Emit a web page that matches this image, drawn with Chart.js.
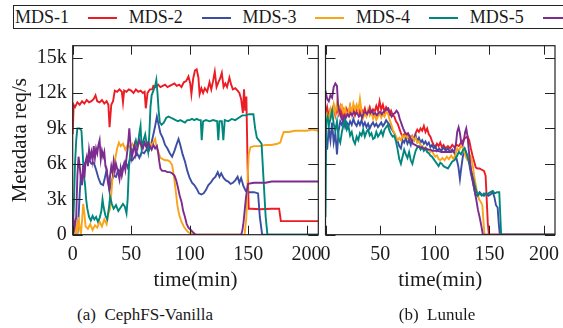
<!DOCTYPE html>
<html>
<head>
<meta charset="utf-8">
<script src="https://cdn.jsdelivr.net/npm/chart.js@4/dist/chart.umd.min.js"></script>
<style>
  body { margin: 0; background: #fff; width: 563px; height: 328px; overflow: hidden; position: relative; font-family: "Liberation Serif", "Times New Roman", Tinos, "DejaVu Serif", serif; color: #1a1a1a; }
  canvas { position: absolute; top: 0; }
  #legend { position: absolute; left: 12.5px; top: 5px; width: 600px; height: 22px; border: 1px solid #222; }
  .lt { position: absolute; top: 0; font-size: 18px; line-height: 23px; white-space: nowrap; }
  .ll { position: absolute; top: 11px; width: 29px; height: 2px; }
  .cap { position: absolute; top: 304px; font-size: 17px; line-height: 22px; white-space: nowrap; transform: translateX(-50%); }
</style>
</head>
<body>
<div id="legend"></div>
<canvas id="left" width="322" height="295" style="left:0"></canvas>
<canvas id="right" width="243" height="295" style="left:320px"></canvas>
<div class="cap" style="left:145px">(a)&nbsp;&nbsp;CephFS-Vanilla</div>
<div class="cap" style="left:437px">(b)&nbsp;&nbsp;Lunule</div>
<script>
const seriesNames = ['MDS-1', 'MDS-2', 'MDS-3', 'MDS-4', 'MDS-5'];
const seriesColors = ['#ec1c24', '#3b4ea3', '#f9a51a', '#00877c', '#7b2c8e'];
const xTicks = [0, 50, 100, 150, 200];
const yTicks = [0, 3000, 6000, 9000, 12000, 15000];

// CephFS-Vanilla, [minute, req/s]
const vanillaMds1 = [[0,8500],[0.8,11000],[2,10800],[4,11200],[6,11000],[8,11300],[10,11100],[12,11400],[14,11200],[16,11300],[18,11500],[19.5,11800],[21,11300],[23,11200],[25,11400],[27,11100],[29,11300],[30.5,11000],[31.5,9100],[33,11000],[34.5,11300],[36,12200],[38,12100],[40,12300],[42,12100],[43,11200],[44,12200],[46,12100],[48,12300],[50,12200],[52,12000],[54,12300],[56,12100],[58,12200],[60,12000],[61.5,12100],[62.5,10700],[64,12000],[66,12300],[68,12300],[69,12600],[71,12500],[73,12700],[75,12500],[77,12600],[79,12700],[81,12500],[83,12600],[85,12700],[87,12800],[89,12600],[91,12700],[93,12500],[95,12900],[97,13000],[99,13400],[100.5,12800],[101.5,11900],[103,13200],[104.5,13900],[106,14000],[107.5,13300],[108.5,11900],[110,12400],[111.5,12000],[113,12400],[115,12100],[117,12900],[118.5,12300],[120,13000],[121.5,13800],[123,12500],[124.5,12900],[126,13200],[127.5,13700],[129,12500],[130.5,12800],[132,12500],[134,13300],[135.5,12700],[137,12300],[139,12400],[141,12200],[142.5,12000],[144,11500],[145.5,10300],[146.5,12300],[147.5,10500],[148.5,11700],[149.5,6000],[150.5,2200],[153,2200],[160,2150],[170,2200],[176.5,2200],[178,1150],[190,1150],[200,1150],[210,1150]];
const vanillaMds2 = [[0,0],[4,0],[5,1500],[6,3500],[7,5000],[8,4200],[9,5500],[10,6000],[12,6200],[14,6300],[16,6000],[18,6100],[20,5500],[22,4800],[24,4300],[26,4200],[27.5,4800],[29,5500],[30.5,4500],[31.5,3700],[33,4500],[35,5000],[37,4900],[39,5500],[41,5300],[43,5800],[45,6200],[47,5700],[49,6400],[51,6300],[53,6600],[55,6900],[57,6500],[59,7000],[61,6900],[63,7200],[65,7100],[67,7600],[69,8500],[70.5,9200],[72,10000],[73.5,9300],[75,8600],[77,8200],[79,7600],[81,7300],[83,6900],[85,6600],[87,7100],[89,7700],[90.5,8100],[92,7600],[94,6800],[96,6200],[98,5400],[100,4800],[102,4400],[104,4200],[106,3900],[108,3500],[110,3400],[112,3500],[114,3800],[116,4200],[118,4400],[120,4700],[122,4900],[124,5300],[125.5,4900],[127,5200],[129,4800],[131,4600],[133,4500],[135,4300],[137,4400],[139,4600],[141,4900],[142.5,4400],[144,4800],[146,4100],[148,3700],[150,3600],[155,3600],[158.5,3500],[160,1500],[162,0],[210,0]];
const vanillaMds3 = [[0,0],[2,0],[3,800],[4,300],[5,1500],[6,600],[7,0],[8,1200],[9,2600],[10,1800],[11,700],[13,500],[15,900],[17,400],[19,800],[21,600],[23,1100],[25,700],[27,1300],[29,900],[30.5,1800],[32,2200],[33,3400],[34,4800],[35,5500],[36.5,6500],[38,7300],[39.5,7800],[41,7500],[43,7700],[45,7200],[47,7600],[49,7400],[51,7700],[53,7300],[55,7600],[57,7800],[59,7400],[61,7700],[63,7500],[65,7900],[67,7600],[69,7800],[70.5,8100],[72,7300],[73.5,6900],[75,6500],[77,6400],[79,6300],[81,6300],[83,6200],[85,5900],[86.5,5000],[88,3800],[89.5,2500],[91,1700],[93,1100],[95,700],[97,400],[99,200],[102,100],[105,0],[147,0],[148.5,1500],[149.5,4500],[150.5,6800],[152,7400],[155,7500],[160,7500],[165,7600],[170,7600],[175,7700],[177.5,7800],[179,8300],[180.5,8700],[185,8700],[190,8800],[195,8800],[200,8800],[205,8900],[210,8800]];
const vanillaMds4 = [[0,0],[1,2500],[2,6000],[3,8000],[4,9000],[6,9000],[7.5,8800],[8.5,7000],[9.5,5000],[10.5,4300],[11.5,3000],[12.5,2200],[14,1500],[15.5,1200],[17,1600],[18.5,1300],[20,1500],[21.5,1100],[23,1400],[24.5,2000],[25.5,3000],[26.5,2300],[28,1600],[29.5,1300],[31,2300],[32,3200],[33.5,2600],[35,2200],[37,2500],[39,2000],[41,2300],[43,2600],[44.5,2400],[46,1800],[47,3000],[48,5500],[49.5,7300],[51,7000],[52.5,7500],[54,8000],[55.5,7400],[57,8600],[58,9200],[59,7200],[60.5,8000],[62,8500],[63.5,7500],[64.5,7000],[65.5,8500],[66.5,10800],[67.5,11800],[69,12200],[70.5,12600],[71.5,13100],[72.5,12000],[73.5,10500],[74.5,9500],[76,9300],[78,9500],[80,9900],[82,10000],[84,9900],[86,9800],[88,9700],[90,9600],[92,9700],[94,9600],[96,9500],[98,9700],[100,9700],[102,9800],[104,9700],[106,9800],[108,9700],[109.5,9700],[110.3,8000],[111.5,9600],[114,9700],[117,9600],[120,9700],[123.5,9600],[124.5,8000],[125.5,9600],[127.5,9600],[128.8,8000],[130,9700],[133,9600],[136,9800],[139,9700],[142,9900],[145,10100],[148,10100],[151,10200],[154.5,10200],[156,9000],[157.5,8200],[160,7900],[161.5,7700],[163,5000],[165,1500],[166.5,0],[210,0]];
const vanillaMds5 = [[0,1700],[1.5,600],[3,1500],[4,5000],[5,6600],[6,5800],[7,4700],[8,4500],[9,5900],[10,4800],[11,6200],[12,6600],[13,5800],[14,7200],[15,6500],[16,7000],[17,6300],[18,7500],[19,6500],[20,7300],[21,6900],[22,7600],[23,8000],[24,6400],[25,7100],[26,6600],[27,7000],[28,5800],[29,5500],[30,4500],[31,4000],[32,5000],[33,5800],[34,5300],[35,6200],[36,5400],[37,6000],[38,5600],[39,5200],[40,4700],[41,5600],[42,5000],[43,5500],[44,6000],[45,5500],[46,6500],[47,7300],[48.4,9000],[49.5,7500],[50.5,6500],[52,7200],[53,7600],[54,6800],[55.5,7500],[57,8000],[58.5,7600],[60,7300],[61.5,7800],[63,7400],[64.5,7800],[66,7500],[67.5,7200],[69,7600],[70.5,7300],[72,7500],[73,7000],[74,6200],[75,5600],[76.5,5400],[79,5400],[81,5300],[83,5300],[85,5200],[87,5000],[88.5,4600],[90,4000],[91.5,3300],[93,2800],[94.5,2000],[96,1500],[97.5,900],[99,600],[101,400],[103,200],[105,0],[144,0],[145,300],[146,1000],[147,2000],[148,3000],[149,3800],[150,4300],[155,4400],[160,4400],[165,4400],[170,4500],[180,4500],[190,4500],[200,4500],[210,4500]];

// Lunule, [minute, req/s]
const lunuleMds1 = [[0,10200],[1.5,10800],[3,10000],[4.5,10600],[6,10300],[7.5,10900],[9,10100],[10.5,10700],[12,10200],[13.5,10800],[15,10000],[16.5,10500],[18,9800],[19.5,10600],[21,10200],[22.5,10900],[24,10300],[25.5,10700],[27,10100],[28.5,10500],[30,10800],[31.5,10200],[33,10600],[34.5,10300],[36,10700],[37.5,10100],[39,10400],[40.5,10800],[42,10300],[43.5,10600],[45,10400],[46.5,10900],[48,10500],[49.5,11300],[51,10600],[52.5,11000],[54,10400],[55.5,10800],[57,10600],[58.5,10200],[60,10500],[61.5,10100],[63,10000],[64.5,9600],[66,9400],[67.5,9000],[69,8600],[70.5,8300],[72,8500],[73.5,8200],[75,8400],[76.5,8100],[78,8300],[79.5,8000],[81,8200],[82.5,8600],[84,8900],[85.5,8700],[87,9000],[88.5,8800],[90,9200],[91.5,8700],[93,9000],[94.5,8500],[96,8300],[97.5,7900],[99,7600],[100.5,7400],[102,7700],[103.5,7500],[105,7800],[106.5,7400],[108,7600],[110,7300],[112,7500],[114,7300],[116,7600],[118,7400],[120,7600],[122,7500],[124,7800],[126,8000],[128,8200],[130,8300],[131.5,8000],[133,7300],[134.5,6700],[136,6200],[137.5,5700],[139,5600],[141,5600],[143,5500],[145,5400],[146.5,5000],[147.5,3000],[148.5,1000],[149.5,0],[210,0]];
const lunuleMds2 = [[0,8500],[1.5,7200],[3,9000],[4.5,8000],[6,9500],[7.5,7800],[9,8600],[10.5,6800],[12,8800],[13.5,9600],[15,9300],[16.5,9700],[18,9100],[19.5,9500],[21,9200],[22.5,9600],[24,9300],[25.5,9800],[27,9400],[28.5,9200],[30,9600],[31.5,9300],[33,9700],[34.5,9200],[36,9500],[37.5,9100],[39,9400],[40.5,9000],[42,9300],[43.5,9500],[45,9200],[46.5,9400],[48,9100],[49.5,9300],[51,9500],[52.5,9200],[54,9400],[55.5,9700],[57,9500],[58.5,9300],[60,9000],[61.5,8800],[63,8600],[64.5,8200],[66,7900],[67.5,7500],[69,7300],[70.5,8000],[72,7800],[73.5,8200],[75,7700],[76.5,8000],[78,7600],[79.5,8300],[81,8000],[82.5,8400],[84,7900],[85.5,8200],[87,7800],[88.5,8000],[90,7700],[91.5,7900],[93,7600],[94.5,7800],[96,7400],[97.5,7600],[99,7300],[100.5,7500],[102,7100],[104,7300],[106,7100],[108,7400],[110,7100],[112,7300],[114,7000],[116,7200],[118,6900],[120,6400],[121.5,5800],[123,4700],[124,5500],[125.5,6500],[127,7300],[128.5,7000],[130,6600],[131.5,6000],[133,5200],[134.5,4600],[136,3900],[137.5,3300],[139,3400],[141,3600],[143,3400],[145,3300],[147,3500],[149,3300],[151,3400],[153,3600],[154.5,3200],[156,2500],[157.5,2300],[158.5,1000],[159.5,0],[210,0]];
const lunuleMds3 = [[0,9400],[1.5,10200],[3,9800],[4.5,10600],[6,10000],[7.5,11000],[9,10300],[10.5,11200],[12,10400],[13.5,10900],[15,11000],[16.5,10300],[18,10700],[19.5,10100],[21,10400],[22.5,10900],[24,10200],[25.5,11100],[27,10600],[28.5,11000],[30,10500],[31.5,11500],[33,10400],[34.5,9900],[36,10300],[37.5,10000],[39,10600],[40.5,10100],[42,10400],[43.5,9800],[45,10200],[46.5,9700],[48,10000],[49.5,10300],[51,9900],[52.5,10200],[54,10000],[55.5,10400],[57,10300],[58.5,9800],[60,9400],[61.5,8900],[63,8600],[64.5,8300],[66,8000],[67.5,8200],[69,8000],[70.5,8400],[72,8200],[73.5,8500],[75,8200],[76.5,8400],[78,8100],[79.5,8300],[81,8000],[82.5,8200],[84,7800],[85.5,7900],[87,7600],[88.5,7500],[90,7300],[91.5,7400],[93,7100],[94.5,7200],[96,7000],[97.5,7100],[99,6800],[100.5,6600],[102,6700],[103.5,6400],[105,6300],[107,6500],[109,6300],[111,6600],[113,6400],[115,6700],[117,6400],[119,6800],[120.5,7300],[122,7100],[124,7500],[126,7300],[128,6700],[129.5,6400],[131,6800],[133,6700],[134.5,6000],[136,5000],[137.5,4200],[139,3500],[140.5,3000],[142,2800],[143.5,2500],[144.5,1200],[145.5,0],[210,0]];
const lunuleMds4 = [[0,1500],[0.7,9500],[2,10000],[3,9200],[4.5,9800],[6,10500],[7.5,9400],[9,8800],[10.5,9600],[12,8200],[13.5,7800],[15,8700],[16.5,9300],[18,9800],[19.5,8900],[21,9200],[22.5,8400],[24,8700],[25.5,8000],[27,7700],[28.5,8300],[30,8000],[31.5,8600],[33,8400],[34.5,8900],[36,8300],[37.5,8700],[39,8900],[40.5,8400],[42,8600],[43.5,8100],[45,8200],[46.5,8700],[48,8300],[49.5,8500],[51,8800],[52.5,8400],[54,8900],[55.5,9100],[57,9300],[58.5,8800],[60,8500],[61.5,8300],[63,8400],[64.5,7900],[66,7200],[67.5,6400],[69,6000],[70.5,6600],[72,7200],[73.5,6800],[75,6500],[76.5,7000],[78,6300],[79.5,6000],[81,6600],[82.5,7100],[84,7400],[85.5,7500],[87,7200],[88.5,7400],[90,7100],[91.5,7300],[93,7000],[94.5,6900],[96,6700],[97.5,6600],[99,6400],[100.5,6200],[102,6000],[103.5,5800],[105,6100],[106.5,6000],[108,5800],[110,5700],[112,5600],[114,5900],[116,6200],[118,6300],[120,6600],[122,7000],[124,6800],[126,7200],[127.5,7300],[129,6900],[130.5,6400],[132,6000],[133.5,5300],[135,4800],[136.5,4200],[138,3700],[139.5,3300],[141,3500],[143,3300],[145,3500],[147,3400],[149,3500],[151,3600],[153,3700],[155,3500],[157,3600],[159,3600],[160,1500],[160.7,0],[210,0]];
const lunuleMds5 = [[0,12200],[1.5,11500],[3,11300],[4.5,11800],[6,11600],[7.5,12500],[9,12800],[10.5,12600],[11.5,11000],[12.5,10500],[14,10000],[15.5,9700],[17,10100],[18.5,9900],[20,10200],[21.5,10000],[23,10300],[24.5,10100],[26,10400],[27.5,10200],[29,10300],[30.5,10000],[32,10200],[33.5,9900],[35,10300],[36.5,10400],[38,10200],[39.5,10500],[41,10300],[42.5,10500],[44,10200],[45.5,10300],[47,10100],[48.5,10300],[50,10400],[51.5,10200],[53,10400],[54.5,10500],[56,10600],[57.5,10700],[59,10300],[60.5,10000],[62,10200],[63.5,10300],[65,10500],[66.5,10300],[68,9800],[69.5,9400],[71,9000],[72.5,8700],[74,8500],[75.5,8600],[77,8300],[78.5,8000],[80,7700],[82,7600],[84,7500],[86,7400],[88,7400],[90,7300],[92,7300],[94,7200],[96,7200],[98,7100],[100,7100],[103,7100],[106,7000],[109,7000],[112,7000],[115,7000],[118,7100],[119.5,7800],[120.5,8700],[121.8,9100],[123,8600],[124.2,7800],[125.5,7600],[126.6,8000],[127.8,8700],[128.8,9000],[130,8300],[131.5,6800],[133,5600],[134.9,4500],[136.5,3700],[137.9,3000],[139.5,2100],[141,1500],[142.5,800],[144,0],[210,0]];

const FONT = '"Liberation Serif", "Times New Roman", Tinos, "DejaVu Serif", serif';

// legend, gnuplot style: name then line sample
const legend = document.getElementById('legend');
seriesNames.forEach((name, i) => {
  const step = 113.7;
  const t = document.createElement('span');
  t.className = 'lt';
  t.style.left = (1.5 + i * step) + 'px';
  t.textContent = name;
  legend.appendChild(t);
  const l = document.createElement('span');
  l.className = 'll';
  l.style.left = (74.5 + i * step) + 'px';
  l.style.background = seriesColors[i];
  legend.appendChild(l);
});

// frame and inward tick marks on all four sides
const framePlugin = {
  id: 'frame',
  afterDatasetsDraw(chart) {
    const { ctx, chartArea: a, scales } = chart;
    ctx.save();
    ctx.strokeStyle = '#222';
    ctx.lineWidth = 1;
    ctx.beginPath();
    scales.x.ticks.forEach(t => {
      const px = Math.round(scales.x.getPixelForValue(t.value)) + 0.5;
      ctx.moveTo(px, a.bottom); ctx.lineTo(px, a.bottom - 9);
      ctx.moveTo(px, a.top); ctx.lineTo(px, a.top + 9);
    });
    scales.y.ticks.forEach(t => {
      const py = Math.round(scales.y.getPixelForValue(t.value)) + 0.5;
      ctx.moveTo(a.left, py); ctx.lineTo(a.left + 10, py);
      ctx.moveTo(a.right, py); ctx.lineTo(a.right - 10, py);
    });
    ctx.stroke();
    ctx.lineWidth = 1.2;
    ctx.strokeRect(a.left, a.top, a.right - a.left, a.bottom - a.top);
    ctx.restore();
  }
};

function makeChart(id, series, opts) {
  const datasets = series.map((pts, i) => ({
    label: seriesNames[i],
    data: pts.map(p => ({ x: p[0], y: p[1] })),
    borderColor: seriesColors[i],
    borderWidth: 1.9,
    pointRadius: 0,
    tension: 0,
    order: series.length - 1 - i
  }));
  return new Chart(document.getElementById(id), {
    type: 'line',
    data: { datasets },
    plugins: [framePlugin],
    options: {
      responsive: false,
      animation: false,
      devicePixelRatio: 1,
      layout: { padding: { top: 45.7, left: 0, right: opts.padRight, bottom: 0 } },
      plugins: { legend: { display: false }, tooltip: { enabled: false } },
      scales: {
        x: {
          type: 'linear', min: 0, max: 210,
          afterBuildTicks: s => { s.ticks = xTicks.map(v => ({ value: v })); },
          ticks: { font: { family: FONT, size: 20 }, color: '#1a1a1a', padding: 8, maxRotation: 0 },
          grid: { display: false, drawTicks: false },
          border: { display: false },
          title: { display: true, text: 'time(min)', font: { family: FONT, size: 21 }, color: '#1a1a1a', padding: { top: 0, bottom: 2.4 } },
          afterFit: s => { s.height = 60.3; s.paddingLeft = 0; s.paddingRight = 0; }
        },
        y: {
          type: 'linear', min: 0, max: 16000,
          afterBuildTicks: s => { s.ticks = yTicks.map(v => ({ value: v })); },
          ticks: {
            display: opts.yLabels,
            font: { family: FONT, size: 20 }, color: '#1a1a1a', padding: 6,
            callback: v => v === 0 ? '0' : (v / 1000) + 'k'
          },
          grid: { display: false, drawTicks: false },
          border: { display: false },
          title: { display: opts.yLabels, text: 'Metadata req/s', font: { family: FONT, size: 21 }, color: '#1a1a1a', padding: { top: 8, bottom: 0 } },
          afterFit: s => { s.width = opts.yWidth; s.paddingTop = 0; s.paddingBottom = 0; }
        }
      }
    }
  });
}

makeChart('left', [vanillaMds1, vanillaMds2, vanillaMds3, vanillaMds4, vanillaMds5], { padRight: 3.7, yLabels: true, yWidth: 72.7 });
makeChart('right', [lunuleMds1, lunuleMds2, lunuleMds3, lunuleMds4, lunuleMds5], { padRight: 8, yLabels: false, yWidth: 5.5 });
</script>
</body>
</html>
